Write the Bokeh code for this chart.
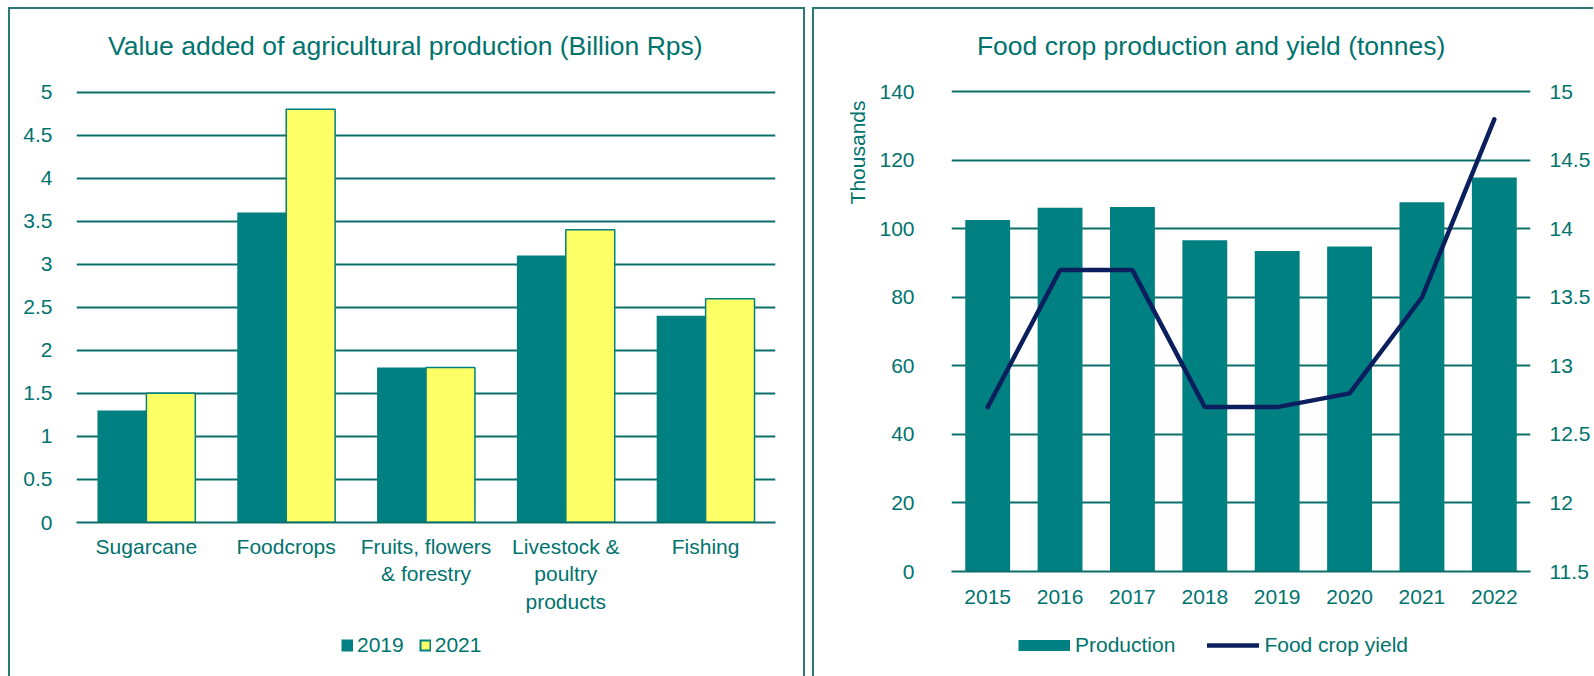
import math
from bokeh.plotting import figure
from bokeh.models import (ColumnDataSource, FactorRange, Range1d, LinearAxis, Legend,
                          LegendItem, FixedTicker, Title)
from bokeh.transform import dodge
from bokeh.layouts import row, column
from bokeh.embed import file_html
from bokeh.resources import INLINE

# ---------------- data ----------------
categories = ["Sugarcane", "Foodcrops", "Fruits, flowers\n& forestry",
              "Livestock &\npoultry\nproducts", "Fishing"]
value_2019 = [1.3, 3.6, 1.8, 3.1, 2.4]
value_2021 = [1.5, 4.8, 1.8, 3.4, 2.6]
left_ticks = [0, 0.5, 1, 1.5, 2, 2.5, 3, 3.5, 4, 4.5, 5]
left_tick_labels = ["0", "0.5", "1", "1.5", "2", "2.5", "3", "3.5", "4", "4.5", "5"]

years = ["2015", "2016", "2017", "2018", "2019", "2020", "2021", "2022"]
production_thousands = [102.6, 106.2, 106.4, 96.7, 93.6, 94.9, 107.8, 115.0]
food_crop_yield = [12.7, 13.7, 13.7, 12.7, 12.7, 12.8, 13.5, 14.8]
prod_ticks = [0, 20, 40, 60, 80, 100, 120, 140]
prod_tick_labels = ["0", "20", "40", "60", "80", "100", "120", "140"]
yield_ticks = [11.5, 12, 12.5, 13, 13.5, 14, 14.5, 15]
yield_tick_labels = ["11.5", "12", "12.5", "13", "13.5", "14", "14.5", "15"]

# ---------------- style ----------------
TEAL = "#008080"
YELLOW = "#FFFF66"
GRID = "#0B6E69"
TEXT = "#00736E"
NAVY = "#0B1F5E"
BORDER = "#2A7A76"
FONT = "Liberation Sans"
FS = "21px"
B = f"2px solid {BORDER}"
NAN = [math.nan]

# headroom above the top gridline (fraction of the axis span), leaves room for the titles
HEAD_L = 0.05
HEAD_R = 0.0448


def no_align(p):
    if "frame_align" in p.properties():
        p.frame_align = False


def style_common(p):
    p.background_fill_color = "white"
    p.border_fill_color = "white"
    p.outline_line_color = None
    p.xgrid.visible = False
    p.ygrid.grid_line_color = GRID
    p.ygrid.grid_line_width = 2
    p.title.text_font = FONT
    p.title.text_font_size = "26.5px"
    p.title.text_font_style = "normal"
    p.title.text_color = TEXT
    p.title.align = "left"
    p.title.standoff = 20
    for ax in p.axis:
        ax.major_label_text_font = FONT
        ax.major_label_text_font_size = FS
        ax.major_label_text_color = TEXT
        ax.major_tick_line_color = None
        ax.minor_tick_line_color = None
        ax.major_tick_out = 0
        ax.major_tick_in = 0
        ax.minor_tick_out = 0
    p.yaxis.axis_line_color = None
    p.xaxis.axis_line_color = GRID
    p.xaxis.axis_line_width = 2
    no_align(p)


def legend_fig(width, height, styles, margin):
    f = figure(width=width, height=height, x_range=Range1d(0, 1), y_range=Range1d(0, 1),
               x_axis_type=None, y_axis_type=None, output_backend="svg",
               toolbar_location=None, min_border=0, title=None)
    f.grid.visible = False
    f.outline_line_color = None
    f.background_fill_color = "white"
    f.border_fill_color = "white"
    f.styles = styles
    f.margin = margin
    no_align(f)
    return f


# ---------------- left chart ----------------
src1 = ColumnDataSource(dict(cat=categories, v19=value_2019, v21=value_2021))
l_span = left_ticks[-1] - left_ticks[0]
p1 = figure(width=797, height=620, x_range=FactorRange(*categories),
            y_range=Range1d(left_ticks[0], left_ticks[-1] + HEAD_L * l_span),
            output_backend="svg", toolbar_location=None,
            min_border_left=66, min_border_right=32, min_border_top=61, min_border_bottom=107,
            title="Value added of agricultural production (Billion Rps)")
p1.vbar(x=dodge("cat", -0.175, range=p1.x_range), top="v19", width=0.35, source=src1,
        fill_color=TEAL, line_color=None)
p1.vbar(x=dodge("cat", 0.175, range=p1.x_range), top="v21", width=0.35, source=src1,
        fill_color=YELLOW, line_color=TEAL, line_width=1.5)
p1.yaxis.ticker = FixedTicker(ticks=left_ticks)
p1.yaxis.major_label_overrides = dict(zip(left_ticks, left_tick_labels))
p1.ygrid.ticker = FixedTicker(ticks=left_ticks)
style_common(p1)
p1.title.offset = 31.5
p1.yaxis.major_label_standoff = 24
p1.xaxis.major_label_standoff = 12
p1.margin = (7, 0, 0, 8)
p1.styles = {"border-top": B, "border-left": B, "border-right": B}

lf1 = legend_fig(797, 49, {"border-left": B, "border-right": B}, (0, 0, 0, 8))
lg19 = lf1.line(x=NAN, y=NAN, line_color=TEAL, line_width=12, line_cap="butt")
lg21a = lf1.line(x=NAN, y=NAN, line_color=TEAL, line_width=12, line_cap="butt")
lg21b = lf1.line(x=NAN, y=NAN, line_color=YELLOW, line_width=8, line_cap="butt",
                 line_dash="0 2 8 2")
leg1 = Legend(items=[LegendItem(label="2019", renderers=[lg19]),
                     LegendItem(label="2021", renderers=[lg21a, lg21b])],
              location=(331, 19), orientation="horizontal", glyph_width=12, glyph_height=24,
              label_height=24, label_standoff=4, spacing=15, padding=0, margin=0,
              border_line_color=None, background_fill_alpha=0,
              label_text_font=FONT, label_text_font_size=FS, label_text_color=TEXT)
lf1.add_layout(leg1)

# ---------------- right chart ----------------
src2 = ColumnDataSource(dict(year=years, prod=production_thousands, yld=food_crop_yield))
p_span = prod_ticks[-1] - prod_ticks[0]
y_span = yield_ticks[-1] - yield_ticks[0]
p2 = figure(width=781, height=620, x_range=FactorRange(*years),
            y_range=Range1d(prod_ticks[0], prod_ticks[-1] + HEAD_R * p_span),
            output_backend="svg", toolbar_location=None,
            min_border_left=137, min_border_right=65, min_border_top=61, min_border_bottom=58,
            title="Food crop production and yield (tonnes)")
p2.extra_y_ranges = {"yield": Range1d(yield_ticks[0], yield_ticks[-1] + HEAD_R * y_span)}
p2.vbar(x="year", top="prod", width=0.62, source=src2, fill_color=TEAL, line_color=None)
yl = p2.line(x="year", y="yld", y_range_name="yield", source=src2, line_color=NAVY,
             line_width=4.5, line_cap="round")
rax = LinearAxis(y_range_name="yield", ticker=FixedTicker(ticks=yield_ticks))
rax.major_label_overrides = dict(zip(yield_ticks, yield_tick_labels))
p2.add_layout(rax, "right")
p2.yaxis[0].ticker = FixedTicker(ticks=prod_ticks)
p2.yaxis[0].major_label_overrides = dict(zip(prod_ticks, prod_tick_labels))
p2.ygrid.ticker = FixedTicker(ticks=prod_ticks)
style_common(p2)
p2.title.offset = 25.4
p2.yaxis[0].major_label_standoff = 37
rax.major_label_standoff = 19
p2.xaxis.major_label_standoff = 18
unit_title = Title(text="Thousands", align="right", offset=30, standoff=16,
                   text_font=FONT, text_font_size=FS, text_font_style="normal",
                   text_color=TEXT)
p2.add_layout(unit_title, "left")
p2.margin = (7, 0, 0, 0)
p2.styles = {"border-top": B, "border-left": B}

lf2 = legend_fig(781, 49, {"border-left": B}, (0, 0, 0, 0))
lgprod = lf2.line(x=NAN, y=NAN, line_color=TEAL, line_width=11, line_cap="butt")
lgyld = lf2.line(x=NAN, y=NAN, line_color=NAVY, line_width=4.5, line_cap="round")
leg2 = Legend(items=[LegendItem(label="Production", renderers=[lgprod]),
                     LegendItem(label="Food crop yield", renderers=[lgyld])],
              location=(204, 19), orientation="horizontal", glyph_width=52, glyph_height=24,
              label_height=24, label_standoff=5, spacing=32, padding=0, margin=0,
              border_line_color=None, background_fill_alpha=0,
              label_text_font=FONT, label_text_font_size=FS, label_text_color=TEXT)
lf2.add_layout(leg2)

layout = row(column(p1, lf1, spacing=0), column(p2, lf2, spacing=0), spacing=7)
open("out.html", "w").write(file_html(layout, INLINE))
